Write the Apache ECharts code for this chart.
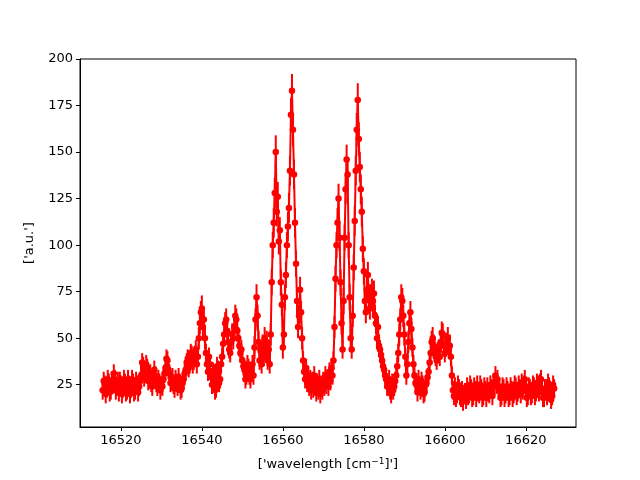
<!DOCTYPE html>
<html>
<head>
<meta charset="utf-8">
<script src="https://cdn.jsdelivr.net/npm/echarts@6/dist/echarts.min.js"></script>
<style>html,body{margin:0;padding:0;background:#fff}#c{width:640px;height:480px}</style>
</head>
<body>
<div id="c"></div>
<script>
// wavelength positions (cm^-1)
const xs = [
16515.5,16515.75,
16516,16516.25,16516.5,16516.75,16517,16517.25,16517.5,16517.75,
16518,16518.25,16518.5,16518.75,16519,16519.25,16519.5,16519.75,
16520,16520.25,16520.5,16520.75,16521,16521.25,16521.5,16521.75,
16522,16522.25,16522.5,16522.75,16523,16523.25,16523.5,16523.75,
16524,16524.25,16524.5,16524.75,16525,16525.25,16525.5,16525.75,
16526,16526.25,16526.5,16526.75,16527,16527.25,16527.5,16527.75,
16528,16528.25,16528.5,16528.75,16529,16529.25,16529.5,16529.75,
16530,16530.25,16530.5,16530.75,16531,16531.25,16531.5,16531.75,
16532,16532.25,16532.5,16532.75,16533,16533.25,16533.5,16533.75,
16534,16534.25,16534.5,16534.75,16535,16535.25,16535.5,16535.75,
16536,16536.25,16536.5,16536.75,16537,16537.25,16537.5,16537.75,
16538,16538.25,16538.5,16538.75,16539,16539.25,16539.5,16539.75,
16540,16540.25,16540.5,16540.75,16541,16541.25,16541.5,16541.75,
16542,16542.25,16542.5,16542.75,16543,16543.25,16543.5,16543.75,
16544,16544.25,16544.5,16544.75,16545,16545.25,16545.5,16545.75,
16546,16546.25,16546.5,16546.75,16547,16547.25,16547.5,16547.75,
16548,16548.25,16548.5,16548.75,16549,16549.25,16549.5,16549.75,
16550,16550.25,16550.5,16550.75,16551,16551.25,16551.5,16551.75,
16552,16552.25,16552.5,16552.75,16553,16553.25,16553.5,16553.75,
16554,16554.25,16554.5,16554.75,16555,16555.25,16555.5,16555.75,
16556,16556.25,16556.5,16556.75,16557,16557.25,16557.5,16557.75,
16558,16558.25,16558.5,16558.75,16559,16559.25,16559.5,16559.75,
16560,16560.25,16560.5,16560.75,16561,16561.25,16561.5,16561.75,
16562,16562.25,16562.5,16562.75,16563,16563.25,16563.5,16563.75,
16564,16564.25,16564.5,16564.75,16565,16565.25,16565.5,16565.75,
16566,16566.25,16566.5,16566.75,16567,16567.25,16567.5,16567.75,
16568,16568.25,16568.5,16568.75,16569,16569.25,16569.5,16569.75,
16570,16570.25,16570.5,16570.75,16571,16571.25,16571.5,16571.75,
16572,16572.25,16572.5,16572.75,16573,16573.25,16573.5,16573.75,
16574,16574.25,16574.5,16574.75,16575,16575.25,16575.5,16575.75,
16576,16576.25,16576.5,16576.75,16577,16577.25,16577.5,16577.75,
16578,16578.25,16578.5,16578.75,16579,16579.25,16579.5,16579.75,
16580,16580.25,16580.5,16580.75,16581,16581.25,16581.5,16581.75,
16582,16582.25,16582.5,16582.75,16583,16583.25,16583.5,16583.75,
16584,16584.25,16584.5,16584.75,16585,16585.25,16585.5,16585.75,
16586,16586.25,16586.5,16586.75,16587,16587.25,16587.5,16587.75,
16588,16588.25,16588.5,16588.75,16589,16589.25,16589.5,16589.75,
16590,16590.25,16590.5,16590.75,16591,16591.25,16591.5,16591.75,
16592,16592.25,16592.5,16592.75,16593,16593.25,16593.5,16593.75,
16594,16594.25,16594.5,16594.75,16595,16595.25,16595.5,16595.75,
16596,16596.25,16596.5,16596.75,16597,16597.25,16597.5,16597.75,
16598,16598.25,16598.5,16598.75,16599,16599.25,16599.5,16599.75,
16600,16600.25,16600.5,16600.75,16601,16601.25,16601.5,16601.75,
16602,16602.25,16602.5,16602.75,16603,16603.25,16603.5,16603.75,
16604,16604.25,16604.5,16604.75,16605,16605.25,16605.5,16605.75,
16606,16606.25,16606.5,16606.75,16607,16607.25,16607.5,16607.75,
16608,16608.25,16608.5,16608.75,16609,16609.25,16609.5,16609.75,
16610,16610.25,16610.5,16610.75,16611,16611.25,16611.5,16611.75,
16612,16612.25,16612.5,16612.75,16613,16613.25,16613.5,16613.75,
16614,16614.25,16614.5,16614.75,16615,16615.25,16615.5,16615.75,
16616,16616.25,16616.5,16616.75,16617,16617.25,16617.5,16617.75,
16618,16618.25,16618.5,16618.75,16619,16619.25,16619.5,16619.75,
16620,16620.25,16620.5,16620.75,16621,16621.25,16621.5,16621.75,
16622,16622.25,16622.5,16622.75,16623,16623.25,16623.5,16623.75,
16624,16624.25,16624.5,16624.75,16625,16625.25,16625.5,16625.75,
16626,16626.25,16626.5,16626.75,16627
];
// intensity (a.u.)
const ys = [
22,27,
25,20,23,28,26,21,22,27,
25,31,28,22,24,27,21,27,
25,20,23,28,26,21,22,28,
25,20,23,28,26,21,22,27,
25,21,24,27,30,37,35,29,
31,36,34,27,28,31,26,24,
29,33,30,26,24,28,26,22,
25,24,28,31,34,39,38,33,
31,26,27,29,25,23,28,26,
24,29,26,22,23,26,28,31,
33,37,39,34,36,42,41,36,
38,41,44,36,40,50,58,64,
66,56,60,50,42,36,32,40,
36,29,25,32,30,22,23,35,
33,26,28,36,40,47,52,58,
60,54,48,44,42,48,52,50,
56,62,60,54,50,46,42,44,
38,35,33,28,30,36,34,30,
28,32,36,30,45,60,72,62,
48,38,44,36,46,40,50,42,
48,38,44,36,52,80,100,112,
128,150,118,126,102,108,80,68,
45,52,72,84,100,110,120,140,
170,183,162,138,112,90,70,56,
62,76,64,50,38,32,28,34,
26,30,24,28,22,27,23,30,
24,21,26,22,28,20,25,22,
27,24,30,25,28,24,32,27,
34,30,38,56,82,100,112,125,
104,80,58,44,70,104,130,146,
138,100,72,50,44,62,88,113,
140,162,178,157,142,130,118,98,
86,70,64,76,84,72,66,72,
75,70,74,62,58,50,56,46,
44,41,38,35,33,30,28,24,
25,28,22,20,26,22,24,27,
30,35,42,52,60,72,70,62,
52,40,30,36,48,58,64,55,
45,36,30,26,25,21,28,24,
22,27,25,20,21,25,26,29,
32,37,42,48,50,46,45,40,
38,43,44,40,48,53,52,46,
42,45,47,50,44,46,40,30,
22,19,24,18,20,25,23,19,
18,22,16,20,21,17,24,19,
20,25,23,18,19,24,22,18,
25,21,20,25,23,18,19,24,
22,18,24,21,20,25,23,19,
26,24,30,25,28,24,22,18,
19,24,23,18,20,24,22,18,
19,24,22,18,20,25,24,19,
21,25,23,20,26,22,25,28,
22,18,19,24,23,19,20,25,
24,19,21,26,25,21,26,28,
22,18,18,23,23,19,26,24,
22,17,19,25,23
];
// error bar half-widths
const errs = [
5,5,
5,5,5,5,5,5,5,5,
5,5,5,5,5,5,5,5,
5,5,5,5,5,5,5,5,
5,5,5,5,5,5,5,5,
5,5,5,5,5,5,5,5,
5,5,5,5,5,5,5,5,
5,5,5,5,5,5,5,5,
5,5,5,5,5,5,5,5,
5,5,5,5,5,5,5,5,
5,5,5,5,5,5,5,5,
5,5,5,5,5,5,5,5,
5,5,5,5,5,6,6,6,
7,6,6,6,5,5,5,5,
5,5,5,5,5,5,5,5,
5,5,5,5,5,6,6,6,
6,6,6,5,5,6,6,6,
6,6,6,6,6,6,5,5,
5,5,5,5,5,5,5,5,
5,5,5,5,6,6,7,6,
6,5,5,5,6,5,6,5,
6,5,5,5,6,7,7,8,
8,9,8,8,7,7,7,6,
6,6,7,7,7,8,8,8,
9,9,9,8,8,7,7,6,
6,7,6,6,5,5,5,5,
5,5,5,5,5,5,5,5,
5,5,5,5,5,5,5,5,
5,5,5,5,5,5,5,5,
5,5,5,6,7,7,8,8,
7,7,6,5,7,7,8,8,
8,7,7,6,5,6,7,8,
8,9,9,9,8,8,8,7,
7,7,6,7,7,7,6,7,
7,7,7,6,6,6,6,6,
5,5,5,5,5,5,5,5,
5,5,5,5,5,5,5,5,
5,5,5,6,6,7,7,6,
6,5,5,5,6,6,6,6,
5,5,5,5,5,5,5,5,
5,5,5,5,5,5,5,5,
5,5,5,6,6,6,6,5,
5,5,5,5,6,6,6,6,
5,5,6,6,5,6,5,5,
5,5,5,5,5,5,5,5,
5,5,5,5,5,5,5,5,
5,5,5,5,5,5,5,5,
5,5,5,5,5,5,5,5,
5,5,5,5,5,5,5,5,
5,5,5,5,5,5,5,5,
5,5,5,5,5,5,5,5,
5,5,5,5,5,5,5,5,
5,5,5,5,5,5,5,5,
5,5,5,5,5,5,5,5,
5,5,5,5,5,5,5,5,
5,5,5,5,5,5,5,5,
5,5,5,5,5
];
const xTicks = [16520,16540,16560,16580,16600,16620];
const yTicks = [25,50,75,100,125,150,175,200];

const n = Math.min(xs.length, ys.length, errs.length);
const lineData = [], errData = [];
for (let i = 0; i < n; i++) {
  lineData.push([xs[i], ys[i]]);
  errData.push([xs[i], ys[i]-errs[i], ys[i]+errs[i]]);
}

const chart = echarts.init(document.getElementById('c'), null, {renderer:'canvas'});
const font = 'DejaVu Sans';
chart.setOption({
  animation:false,
  backgroundColor:'#fff',
  grid:{left:80,right:64,top:59,bottom:53,show:true,borderColor:'#000',borderWidth:1,backgroundColor:'transparent'},
  xAxis:{
    type:'value', min:16509.9, max:16632.4,
    axisLine:{show:true,lineStyle:{color:'#000',width:1}},
    axisTick:{show:true,length:4,lineStyle:{color:'#000'},customValues:xTicks},
    axisLabel:{color:'#000',fontFamily:font,fontSize:13,margin:7,customValues:xTicks,formatter:v=>String(v)},
    splitLine:{show:false},
    name:"['wavelength [cm{sup|−1}]']",
    nameLocation:'middle', nameGap:30,
    nameTextStyle:{color:'#000',fontFamily:font,fontSize:13,rich:{sup:{fontSize:9,fontFamily:font,color:'#000',padding:[0,0,7,0]}}}
  },
  yAxis:{
    type:'value', min:2.3, max:200,
    axisLine:{show:true,lineStyle:{color:'#000',width:1}},
    axisTick:{show:true,length:4,lineStyle:{color:'#000'},customValues:yTicks},
    axisLabel:{color:'#000',fontFamily:font,fontSize:13,margin:7,customValues:yTicks,formatter:v=>String(v)},
    splitLine:{show:false},
    name:"['a.u.']", nameLocation:'middle', nameGap:44, nameRotate:90,
    nameTextStyle:{color:'#000',fontFamily:font,fontSize:13}
  },
  series:[
    {
      type:'custom',
      data:errData,
      encode:{x:0,y:[1,2]},
      renderItem:(params,api)=>{
        const x=api.value(0), lo=api.value(1), hi=api.value(2);
        const p1=api.coord([x,lo]), p2=api.coord([x,hi]);
        return {type:'line',shape:{x1:p1[0],y1:p1[1],x2:p2[0],y2:p2[1]},style:{stroke:'#ff0000',lineWidth:2}};
      },
      z:2
    },
    {
      type:'line',
      data:lineData,
      showSymbol:true,
      symbol:'circle',
      symbolSize:6.5,
      lineStyle:{color:'#ff0000',width:2},
      itemStyle:{color:'#ff0000',borderWidth:0},
      z:3
    }
  ]
});
</script>
</body>
</html>
